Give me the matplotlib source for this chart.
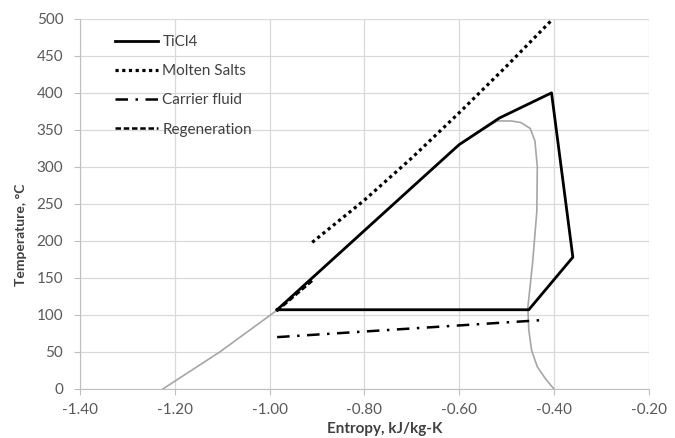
import matplotlib
matplotlib.use("Agg")
import matplotlib.pyplot as plt
import numpy as np

plt.rcParams['font.family'] = ['Lato', 'DejaVu Sans']

# saturation dome (gray)
dome_s = [-1.225, -1.105, -0.985, -0.80, -0.70, -0.60, -0.52, -0.49, -0.47, -0.45, -0.44,
          -0.435, -0.436, -0.445, -0.455, -0.453, -0.447, -0.435, -0.418, -0.40]
dome_t = [0, 50, 106, 213, 272, 330, 362, 362, 360, 352, 335,
          300, 240, 170, 110, 80, 52, 30, 14, 0]

# TiCl4 cycle
ticl4_s = [-0.984, -0.70, -0.60, -0.515, -0.405, -0.36, -0.453, -0.984]
ticl4_t = [107, 272, 330, 366, 400, 178, 107, 107]

# molten salts
salt_s = [-0.91, -0.80, -0.70, -0.60, -0.50, -0.405]
salt_t = [198, 255, 312, 373, 436, 498]

# carrier fluid
carrier_s = [-0.984, -0.425]
carrier_t = [70, 93]

# regeneration
regen_s = [-0.985, -0.91]
regen_t = [105, 146]

fig = plt.figure(figsize=(6.75, 4.38), dpi=100)
ax = fig.add_axes([0.1185, 0.112, 0.8425, 0.845])

ax.plot(dome_s, dome_t, color='#a6a6a6', lw=1.2, zorder=2)
ax.plot(ticl4_s, ticl4_t, color='black', lw=2.0, label='TiCl4', zorder=3)
ax.plot(salt_s, salt_t, color='black', lw=2.3, linestyle=(0, (1, 1.1)),
        dash_capstyle='butt', label='Molten Salts', zorder=3)
ax.plot(carrier_s, carrier_t, color='black', lw=1.8, linestyle=(0, (5, 3, 1, 3)),
        label='Carrier fluid', zorder=3)
ax.plot(regen_s, regen_t, color='black', lw=1.8, linestyle=(0, (2.2, 1.1)),
        label='Regeneration', zorder=4)

ax.set_xlim(-1.40, -0.20)
ax.set_ylim(0, 500)
xt = np.arange(-1.40, -0.19, 0.20)
ax.set_xticks(xt)
ax.set_xticklabels([f'{v:.2f}' for v in xt])
ax.set_yticks(np.arange(0, 501, 50))

ax.grid(True, color='#d9d9d9', lw=0.9)
ax.set_axisbelow(True)
for side in ['top', 'right']:
    ax.spines[side].set_visible(False)
for side in ['left', 'bottom']:
    ax.spines[side].set_color('#bfbfbf')
ax.tick_params(labelcolor='#595959', color='#bfbfbf', labelsize=11, length=4, width=0.8)
ax.tick_params(axis='x', pad=6)
ax.tick_params(axis='y', pad=8)

ax.set_xlabel('Entropy, kJ/kg-K', fontsize=11, fontweight='bold', color='#404040')
ax.set_ylabel('Temperature, \u00b0C', fontsize=10, fontweight='bold', color='#404040')
ax.xaxis.set_label_coords(0.536, -0.089)
ax.yaxis.set_label_coords(-0.094, 0.416)

leg = ax.legend(loc='upper left', bbox_to_anchor=(0.051, 0.973), frameon=False,
                handlelength=2.8, handletextpad=0.3, labelspacing=1.0, fontsize=11,
                borderaxespad=0)
for t in leg.get_texts():
    t.set_color('#404040')

fig.savefig('out.png', dpi=100)
